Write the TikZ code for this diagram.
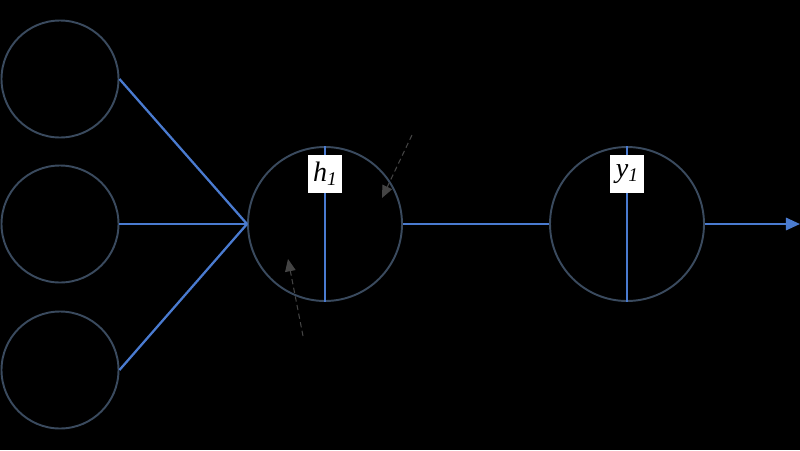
\documentclass[tikz,border=0pt]{standalone}
\usepackage{fontspec}
\setmainfont{Liberation Serif}
\usetikzlibrary{arrows.meta}
\begin{document}
\begin{tikzpicture}[x=0.02cm,y=-0.02cm,
  neuron/.style={circle,draw=circ,line width=1.1pt,inner sep=0pt},
  conn/.style={draw=lineblue,line width=1.3pt},
  divider/.style={draw=lineblue,line width=0.6pt},
  lab/.style={fill=white,text=black,inner sep=0pt,minimum width=19pt,minimum height=21.5pt,font=\fontsize{16}{18}\selectfont\itshape},
  hint/.style={draw=hintgray,densely dashed,line width=0.6pt,-{Triangle[length=7pt,width=6pt,fill=hintgray]}}]
\definecolor{circ}{HTML}{3A4A5E}
\definecolor{lineblue}{HTML}{4A7BD0}
\definecolor{hintgray}{HTML}{444444}
\fill[black] (0,0) rectangle (800,450);
\useasboundingbox (0,0) rectangle (800,450);
% input neurons
\node[neuron,minimum size=117*0.02cm] (i1) at (60,79) {};
\node[neuron,minimum size=117*0.02cm] (i2) at (60,224) {};
\node[neuron,minimum size=117*0.02cm] (i3) at (60,370) {};
% hidden and output neurons
\node[neuron,minimum size=154*0.02cm] (h) at (325,224) {};
\node[neuron,minimum size=154*0.02cm] (y) at (627,224) {};
\draw[divider] (h.north) -- (h.south);
\draw[divider] (y.north) -- (y.south);
\node[lab] (hl) at (325,174) {h\raisebox{-0.3ex}{\fontsize{11}{12}\selectfont 1}};
\node[lab] (yl) at (627,174) {y\raisebox{-0.3ex}{\fontsize{11}{12}\selectfont 1}};
% connections
\draw[conn] (i1.east) -- (h.west);
\draw[conn] (i2.east) -- (h.west);
\draw[conn] (i3.east) -- (h.west);
\draw[conn] (h.east) -- (y.west);
\coordinate (out) at (800,224);
\draw[conn,-{Triangle[length=8pt,width=7pt]}] (y.east) -- (out);
% dashed hints
\coordinate (d1s) at (412,135);
\coordinate (d1e) at (382,198);
\coordinate (d2s) at (303,336);
\coordinate (d2e) at (288,259);
\draw[hint] (d1s) -- (d1e);
\draw[hint] (d2s) -- (d2e);
\end{tikzpicture}
\end{document}
